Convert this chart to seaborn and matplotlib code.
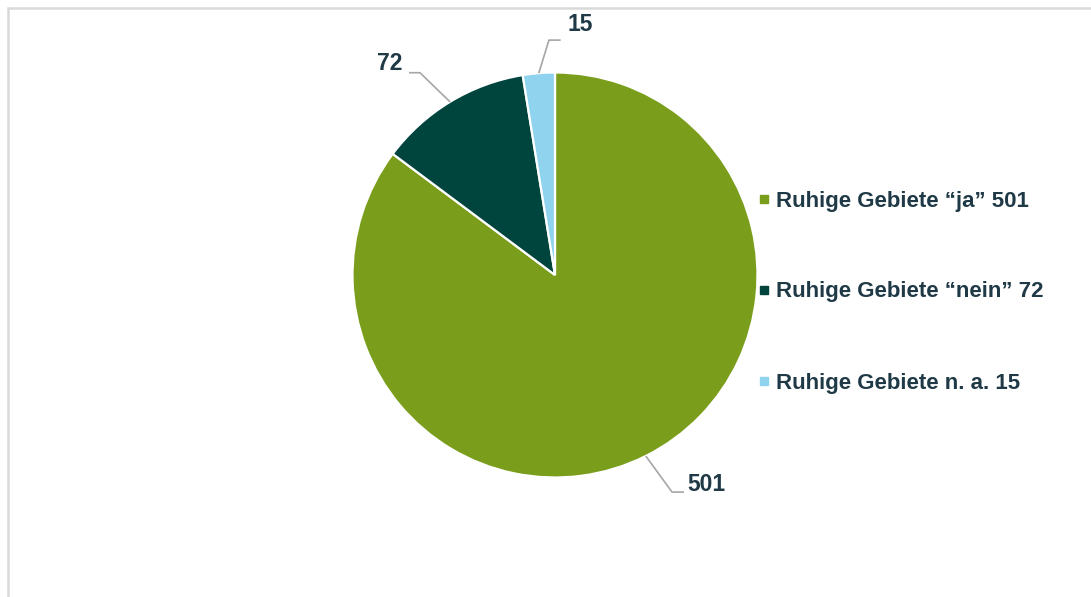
import numpy as np
import matplotlib
matplotlib.use("Agg")
import matplotlib.pyplot as plt
from matplotlib.lines import Line2D
from matplotlib.patches import Rectangle
import seaborn as sns

# ---- data ----
categories = ["Ruhige Gebiete \u201cja\u201d", "Ruhige Gebiete \u201cnein\u201d", "Ruhige Gebiete n. a."]
values = [501, 72, 15]
colors_hex = ["#7A9E1B", "#00443E", "#8FD3EE"]

# label placement (axes units, radius = 1): elbow point, line end, text centre
label_elbow = [(0.578, -1.072), (-0.667, 0.999), (-0.030, 1.160)]
label_end = [(0.637, -1.072), (-0.721, 0.999), (0.028, 1.160)]
label_text = [(0.750, -1.035), (-0.815, 1.045), (0.122, 1.235)]

sns.set_theme(style="white")
plt.rcParams["font.family"] = ["Liberation Sans", "DejaVu Sans"]
text_color = "#1F3A46"
palette = sns.color_palette(colors_hex)

fig = plt.figure(figsize=(10.91, 5.97), dpi=100)
ax = fig.add_axes([352.5 / 1091, 1 - 477.5 / 597, 405 / 1091, 405 / 597])

wedges, _ = ax.pie(values, colors=palette, startangle=90, counterclock=False,
                   radius=1.0, wedgeprops=dict(edgecolor="white", linewidth=1.6))
ax.set_xlim(-1, 1)
ax.set_ylim(-1, 1)
ax.set_aspect("equal")
ax.axis("off")

for w, v, elb, end, tp in zip(wedges, values, label_elbow, label_end, label_text):
    ang = np.deg2rad((w.theta1 + w.theta2) / 2)
    sx, sy = np.cos(ang), np.sin(ang)
    ax.plot([sx, elb[0], end[0]], [sy, elb[1], end[1]], color="#A6A6A6",
            lw=1.2, clip_on=False, solid_capstyle="butt")
    ax.text(tp[0], tp[1], str(v), ha="center", va="center", fontsize=16.5,
            fontweight="bold", color=text_color, clip_on=False)

handles = [Line2D([0], [0], marker="s", linestyle="none", markersize=6,
                  markerfacecolor=c, markeredgecolor=c) for c in palette]
labels = [f"{c} {v}" for c, v in zip(categories, values)]
leg = fig.legend(handles, labels, loc="center left",
                 bbox_to_anchor=(756 / 1091, 1 - 292 / 597),
                 frameon=False, labelspacing=3.15,
                 handlelength=0.7, handletextpad=0.2, borderpad=0,
                 borderaxespad=0, prop=dict(weight="bold", size=16))
for t in leg.get_texts():
    t.set_color(text_color)

# light grey frame (top and left visible)
fig.add_artist(Rectangle((7.5 / 1091, -0.2), 1.5, 1.2 - 7.5 / 597,
                         transform=fig.transFigure, fill=False,
                         edgecolor="#D9D9D9", linewidth=1.8))

fig.savefig("out.png", dpi=100, facecolor="white")
